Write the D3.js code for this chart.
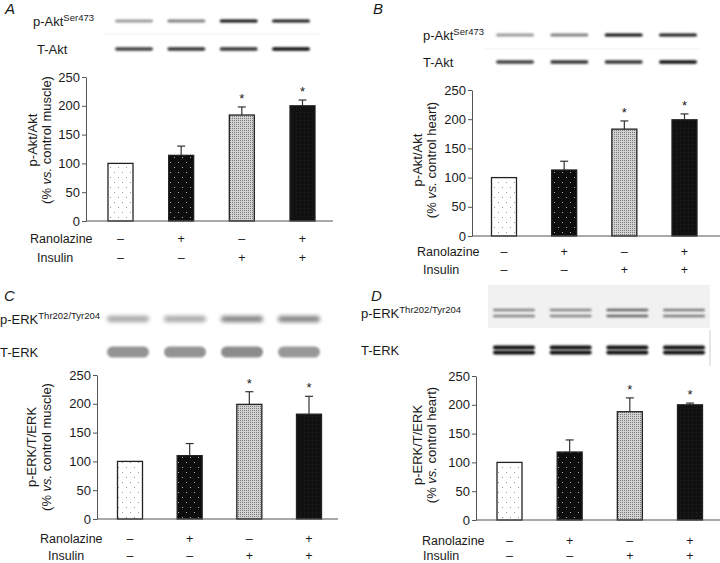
<!DOCTYPE html>
<html><head><meta charset="utf-8">
<script src="https://cdn.jsdelivr.net/npm/d3@7"></script>
<style>body{margin:0;background:#fff}svg{display:block;font-family:"Liberation Sans",Arial,Helvetica,sans-serif}</style>
</head><body><svg id="c" width="720" height="563"></svg>
<script>
// ---------- data ----------
const groups = ["Control", "Ranolazine", "Insulin", "Ranolazine+Insulin"];
const ranolazineSigns = ["–", "+", "–", "+"];
const insulinSigns = ["–", "–", "+", "+"];
const yTicks = [0, 50, 100, 150, 200, 250];

const valuesA = [100, 114, 184, 200];
const errorsA = [0, 16, 14, 10];
const valuesB = [100, 113, 183, 199];
const errorsB = [0, 15, 14, 10];
const valuesC = [100, 110, 199, 182];
const errorsC = [0, 21, 22, 31];
const valuesD = [100, 118, 188, 200];
const errorsD = [0, 21, 24, 3];
const significant = [false, false, true, true];

// western blot band intensities (0..1) per lane
const blotA_phospho = [0.4, 0.5, 0.95, 0.9];
const blotA_total = [0.75, 0.8, 0.8, 0.95];
const blotB_phospho = [0.4, 0.5, 0.95, 0.9];
const blotB_total = [0.75, 0.8, 0.8, 0.95];
const blotC_phospho = [0.35, 0.35, 0.5, 0.5];
const blotC_total = [0.42, 0.42, 0.45, 0.4];
const blotD_phospho = [0.45, 0.45, 0.6, 0.5];
const blotD_total = [0.95, 0.95, 0.95, 0.95];

// ---------- drawing ----------
const svg = d3.select("#c");
const defs = svg.append("defs");
const TXT = "#1a1a1a";
const FS = 12.5;

function pat(id, w, h, bg, dots, col, r) {
  const p = defs.append("pattern").attr("id", id).attr("patternUnits", "userSpaceOnUse")
    .attr("width", w).attr("height", h);
  p.append("rect").attr("width", w).attr("height", h).attr("fill", bg);
  dots.forEach(([x, y]) => p.append("rect").attr("x", x).attr("y", y).attr("width", r).attr("height", r).attr("fill", col));
}
pat("p0", 8, 10, "#fff", [[2, 2], [6, 7]], "#9a9a9a", 1);
pat("p1", 8, 10, "#0d0d0d", [[2, 2], [6, 7]], "#b0b0b0", 1);
pat("p2", 2, 2, "#d2d2d2", [[0, 0]], "#7a7a7a", 1);
pat("p3", 4, 4, "#111", [[0, 0]], "#222", 1);
const fills = ["url(#p0)", "url(#p1)", "url(#p2)", "url(#p3)"];

[0.8, 1.3, 2.2].forEach((s, i) => {
  defs.append("filter").attr("id", "bl" + i).attr("x", "-20%").attr("y", "-200%").attr("width", "140%").attr("height", "500%")
    .append("feGaussianBlur").attr("stdDeviation", s);
});

function blotRow(g, lanes, intens, cy, h, laneW, blur, doublet) {
  groups.forEach((k, i) => {
    const c = lanes(k);
    const a = intens[i];
    const offs = doublet ? [-doublet / 2, doublet / 2] : [0];
    offs.forEach(dy => {
      g.append("rect").attr("x", c - laneW / 2).attr("y", cy + dy - h / 2).attr("width", laneW).attr("height", h)
        .attr("rx", h / 2).attr("fill", "#000").attr("opacity", a).attr("filter", "url(#bl" + blur + ")");
    });
  });
}

function panel(cfg) {
  const g = svg.append("g");
  g.append("text").attr("x", cfg.letterX).attr("y", cfg.letterY).attr("font-size", 15).attr("font-style", "italic")
    .attr("fill", TXT).text(cfg.letter);

  const lab1 = g.append("text").attr("x", cfg.blotLabelX).attr("y", cfg.row1Y + 4.5).attr("font-size", 13).attr("fill", TXT);
  lab1.append("tspan").text(cfg.pLabel);
  lab1.append("tspan").attr("font-size", 9.5).attr("dy", -5).text(cfg.pSup);
  g.append("text").attr("x", cfg.blotLabelX + cfg.tIndent).attr("y", cfg.row2Y + 4.5).attr("font-size", 13).attr("fill", TXT).text(cfg.tLabel);

  if (cfg.blotBg) {
    g.append("rect").attr("x", cfg.blotBg[0]).attr("y", cfg.blotBg[1]).attr("width", cfg.blotBg[2]).attr("height", cfg.blotBg[3])
      .attr("fill", "#f1f1f1");
    g.append("line").attr("x1", cfg.blotBg[0] + cfg.blotBg[2]).attr("x2", cfg.blotBg[0] + cfg.blotBg[2])
      .attr("y1", cfg.blotBg[1] + cfg.blotBg[3] + 2).attr("y2", cfg.row2Y + 16).attr("stroke", "#ccc");
  }
  if (cfg.sepLine) {
    g.append("line").attr("x1", cfg.sepLine[0]).attr("x2", cfg.sepLine[1]).attr("y1", cfg.sepLine[2]).attr("y2", cfg.sepLine[2])
      .attr("stroke", "#f0f0f0");
  }
  const lanes = d3.scalePoint().domain(groups).range(cfg.laneRange);
  blotRow(g, lanes, cfg.blotP, cfg.row1Y, cfg.pH, cfg.laneW, cfg.pBlur, cfg.pDoublet);
  blotRow(g, lanes, cfg.blotT, cfg.row2Y, cfg.tH, cfg.laneW, cfg.tBlur, cfg.tDoublet);

  const y = d3.scaleLinear().domain([0, 250]).range([cfg.y0, cfg.yTop]);
  const x = d3.scalePoint().domain(groups).range(cfg.barRange);
  const bw = 25;

  const ax = g.append("g").attr("transform", `translate(${cfg.axisX},0)`)
    .call(d3.axisLeft(y).tickValues(yTicks).tickSize(4).tickSizeOuter(0).tickPadding(2));
  ax.select(".domain").attr("stroke", "#555");
  ax.selectAll(".tick line").attr("stroke", "#555");
  ax.selectAll(".tick text").attr("font-size", 13).attr("fill", TXT).attr("font-family", "Liberation Sans, Arial, sans-serif");

  groups.forEach((k, i) => {
    const v = cfg.values[i], e = cfg.errors[i];
    const cx = x(k);
    if (e > 0) {
      g.append("line").attr("x1", cx).attr("x2", cx).attr("y1", y(v)).attr("y2", y(v + e)).attr("stroke", "#333").attr("stroke-width", 1.2);
      g.append("line").attr("x1", cx - 4).attr("x2", cx + 4).attr("y1", y(v + e)).attr("y2", y(v + e)).attr("stroke", "#333").attr("stroke-width", 1.2);
    }
    g.append("rect").attr("x", cx - bw / 2).attr("y", y(v)).attr("width", bw).attr("height", y(0) - y(v))
      .attr("fill", fills[i]).attr("stroke", "#222").attr("stroke-width", 1.3);
    if (significant[i]) {
      g.append("text").attr("x", cx).attr("y", y(v + e) - 4).attr("text-anchor", "middle").attr("font-size", 13)
        .attr("fill", TXT).text("*");
    }
  });
  g.append("line").attr("x1", cfg.axisX).attr("x2", cfg.xEnd).attr("y1", cfg.y0).attr("y2", cfg.y0).attr("stroke", "#555").attr("stroke-width", 1.2);

  g.append("text").attr("x", cfg.ranX).attr("y", cfg.ranY + 4.5).attr("font-size", FS).attr("fill", TXT).text("Ranolazine");
  g.append("text").attr("x", cfg.insX).attr("y", cfg.insY + 4.5).attr("font-size", FS).attr("fill", TXT).text("Insulin");
  groups.forEach((k, i) => {
    g.append("text").attr("x", x(k)).attr("y", cfg.ranY + 4.5).attr("text-anchor", "middle").attr("font-size", FS).attr("fill", TXT).text(ranolazineSigns[i]);
    g.append("text").attr("x", x(k)).attr("y", cfg.insY + 4.5).attr("text-anchor", "middle").attr("font-size", FS).attr("fill", TXT).text(insulinSigns[i]);
  });

  g.append("text").attr("transform", `translate(${cfg.ylX1},${cfg.ylY}) rotate(-90)`).attr("text-anchor", "middle")
    .attr("font-size", 13).attr("fill", TXT).text(cfg.ylab1);
  const yl2 = g.append("text").attr("transform", `translate(${cfg.ylX2},${cfg.ylY}) rotate(-90)`).attr("text-anchor", "middle")
    .attr("font-size", 13).attr("fill", TXT);
  yl2.append("tspan").text("(% ");
  yl2.append("tspan").attr("font-style", "italic").text("vs.");
  yl2.append("tspan").text(" " + cfg.ylab2 + ")");
}

panel({
  letter: "A", letterX: 5, letterY: 14,
  blotLabelX: 33, tIndent: 4, row1Y: 21, row2Y: 49, pLabel: "p-Akt", pSup: "Ser473", tLabel: "T-Akt",
  laneRange: [134, 291], laneW: 38, pH: 3, tH: 3.5, pBlur: 0, tBlur: 0,
  blotP: blotA_phospho, blotT: blotA_total, sepLine: [105, 320, 34],
  axisX: 86, y0: 221, yTop: 77, xEnd: 333, barRange: [120.5, 302.5],
  values: valuesA, errors: errorsA,
  ranX: 30, ranY: 238, insX: 37, insY: 257,
  ylX1: 37, ylX2: 51, ylY: 140, ylab1: "p-Akt/Akt", ylab2: "control muscle"
});
panel({
  letter: "B", letterX: 373, letterY: 14,
  blotLabelX: 423, tIndent: 0, row1Y: 35, row2Y: 62, pLabel: "p-Akt", pSup: "Ser473", tLabel: "T-Akt",
  laneRange: [515, 678], laneW: 38, pH: 3, tH: 3.5, pBlur: 0, tBlur: 0,
  blotP: blotB_phospho, blotT: blotB_total, sepLine: [485, 700, 49],
  axisX: 472, y0: 236, yTop: 90, xEnd: 720, barRange: [504, 684.5],
  values: valuesB, errors: errorsB,
  ranX: 417, ranY: 251, insX: 423, insY: 269,
  ylX1: 422, ylX2: 436, ylY: 160, ylab1: "p-Akt/Akt", ylab2: "control heart"
});
panel({
  letter: "C", letterX: 4, letterY: 301,
  blotLabelX: 0, tIndent: 0, row1Y: 319, row2Y: 352, pLabel: "p-ERK", pSup: "Thr202/Tyr204", tLabel: "T-ERK",
  laneRange: [128, 299], laneW: 42, pH: 6, tH: 11, pBlur: 2, tBlur: 1,
  blotP: blotC_phospho, blotT: blotC_total,
  axisX: 97, y0: 519, yTop: 375, xEnd: 338, barRange: [130, 309],
  values: valuesC, errors: errorsC,
  ranX: 40, ranY: 538, insX: 48, insY: 555.5,
  ylX1: 36, ylX2: 51, ylY: 447, ylab1: "p-ERK/T/ERK", ylab2: "control muscle"
});
panel({
  letter: "D", letterX: 371, letterY: 301,
  blotLabelX: 361, tIndent: 0, row1Y: 313, row2Y: 350, pLabel: "p-ERK", pSup: "Thr202/Tyr204", tLabel: "T-ERK",
  laneRange: [514, 684], laneW: 42, pH: 2.5, tH: 4, pBlur: 0, tBlur: 0, pDoublet: 6, tDoublet: 5,
  blotP: blotD_phospho, blotT: blotD_total, blotBg: [488, 285, 222, 43],
  axisX: 476, y0: 520, yTop: 376, xEnd: 720, barRange: [509.5, 690],
  values: valuesD, errors: errorsD,
  ranX: 422, ranY: 540, insX: 423, insY: 555.5,
  ylX1: 422, ylX2: 436, ylY: 445, ylab1: "p-ERK/T/ERK", ylab2: "control heart"
});
</script></body></html>
